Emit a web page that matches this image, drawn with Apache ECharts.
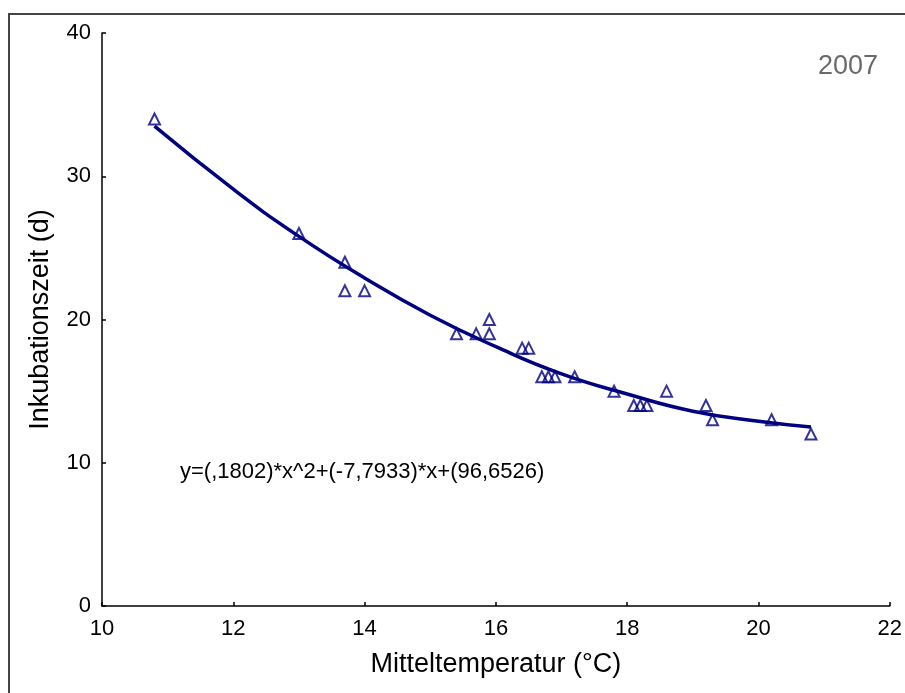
<!DOCTYPE html>
<html>
<head>
<meta charset="utf-8">
<title>Inkubationszeit 2007</title>
<script src="https://cdn.jsdelivr.net/npm/echarts@6/dist/echarts.min.js"></script>
<style>
  html, body { margin: 0; padding: 0; background: #ffffff; }
  #main { width: 905px; height: 693px; }
</style>
</head>
<body>
<div id="main"></div>
<script>
// Messwerte (Mitteltemperatur in °C, Inkubationszeit in Tagen)
var tempX = [10.8, 13.0, 13.7, 13.7, 14.0, 15.4, 15.7, 15.9, 15.9, 16.4, 16.5, 16.7,
  16.8, 16.9, 17.2, 17.8, 18.1, 18.2, 18.3, 18.6, 19.2, 19.3, 20.2, 20.8];
var daysY = [34, 26, 24, 22, 22, 19, 19, 20, 19, 18, 18, 16,
  16, 16, 16, 15, 14, 14, 14, 15, 14, 13, 13, 12];

// Regressionskurve, Punkte
var curveX = [10.8, 12, 13, 14, 15, 16, 17, 18, 19, 20, 20.8];
var curveY = [33.5, 29.1, 25.8, 22.9, 20.3, 18.1, 16.2, 14.8, 13.6, 12.9, 12.5];

var xTicks = [10, 12, 14, 16, 18, 20, 22];
var yTicks = [0, 10, 20, 30, 40];

var equation = 'y=(,1802)*x^2+(-7,7933)*x+(96,6526)';
var yearLabel = '2007';

var navy = '#000080';
var font = '"Liberation Sans", Arial, sans-serif';

var chart = echarts.init(document.getElementById('main'), null, {
  width: 905,
  height: 693,
  devicePixelRatio: 1
});

var points = tempX.map(function (x, i) { return [x, daysY[i]]; });
var curve = curveX.map(function (x, i) { return [x, curveY[i]]; });

var option = {
  backgroundColor: '#ffffff',
  animation: false,
  textStyle: { fontFamily: font },
  title: {
    text: yearLabel,
    right: 22,
    top: 48,
    textStyle: { fontSize: 27, fontWeight: 'normal', color: '#6a6a6a', fontFamily: font }
  },
  grid: { left: 102, right: 10, top: 33, bottom: 87 },
  xAxis: {
    type: 'value',
    min: xTicks[0],
    max: xTicks[xTicks.length - 1],
    interval: 2,
    name: 'Mitteltemperatur (°C)',
    nameLocation: 'middle',
    nameGap: 45,
    nameTextStyle: { fontSize: 27, color: '#000', fontFamily: font },
    axisLine: { show: true, lineStyle: { color: '#000', width: 1.5 } },
    axisTick: { show: true, inside: true, length: 4, lineStyle: { color: '#000', width: 1.5 } },
    axisLabel: { fontSize: 22, color: '#000', margin: 12, fontFamily: font },
    splitLine: { show: false }
  },
  yAxis: {
    type: 'value',
    min: yTicks[0],
    max: yTicks[yTicks.length - 1],
    interval: 10,
    name: 'Inkubationszeit (d)',
    nameLocation: 'middle',
    nameGap: 48,
    nameTextStyle: { fontSize: 27, color: '#000', fontFamily: font },
    axisLine: { show: true, lineStyle: { color: '#000', width: 1.5 } },
    axisTick: { show: true, inside: true, length: 4, lineStyle: { color: '#000', width: 1.5 } },
    axisLabel: { fontSize: 22, color: '#000', margin: 11, fontFamily: font },
    splitLine: { show: false }
  },
  graphic: [
    // äußerer Rahmen, läuft rechts und unten aus dem Bild
    {
      type: 'rect',
      shape: { x: 9, y: 14, width: 1000, height: 1000 },
      style: { fill: 'none', stroke: '#444', lineWidth: 2 },
      silent: true,
      z: -1
    },
    {
      type: 'text',
      left: 180,
      top: 461,
      style: { text: equation, fontSize: 22, fill: '#000', font: '22px ' + font }
    }
  ],
  series: [
    {
      type: 'line',
      data: curve,
      smooth: true,
      showSymbol: false,
      lineStyle: { color: navy, width: 3.5 },
      z: 2
    },
    {
      type: 'scatter',
      data: points,
      symbol: 'triangle',
      symbolSize: 11,
      itemStyle: { color: 'rgba(255,255,255,0)', borderColor: navy, borderWidth: 2 },
      z: 3
    }
  ]
};

chart.setOption(option);
</script>
</body>
</html>
